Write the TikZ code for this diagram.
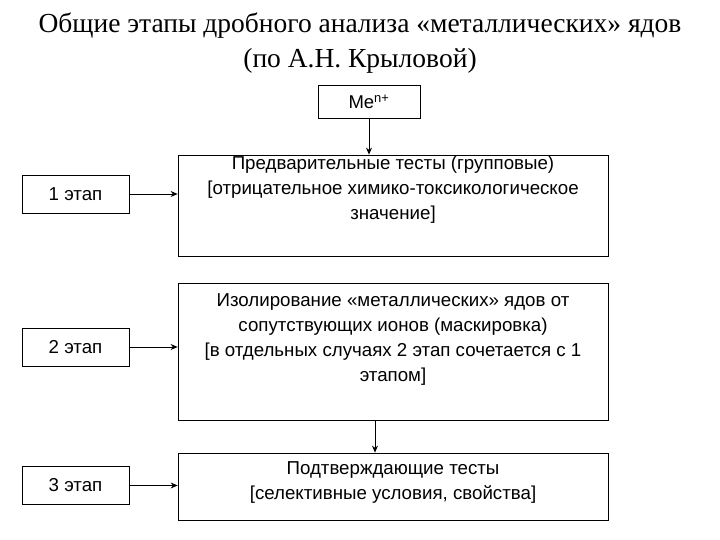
\documentclass[tikz,border=0pt]{standalone}
\usepackage{fontspec}
\setmainfont{Liberation Sans}
\newfontfamily\ttl{Liberation Serif}
\usetikzlibrary{arrows.meta}
\begin{document}
\begin{tikzpicture}[x=1pt,y=-1pt,
  bx/.style={draw,line width=0.8pt,inner sep=0pt},
  txt/.style={align=center,font=\fontsize{18.7}{25}\selectfont},
  ar/.style={-{Stealth[length=7pt,width=6pt]},line width=0.8pt}]
\useasboundingbox (0,0) rectangle (720,540);
\node[font=\ttl\fontsize{27.5}{35}\selectfont,align=center] (title) at (360,43) {Общие этапы дробного анализа «металлических» ядов\\(по А.Н. Крыловой)};
\node[bx,minimum width=102pt,minimum height=33pt,font=\fontsize{18.5}{20}\selectfont] (me) at (369,101.5) {Me\textsuperscript{n+}};
\node[bx,minimum width=430pt,minimum height=101pt] (b1) at (393,205.5) {};
\node[txt] (t1) at (393,190) {Предварительные тесты (групповые)\\\relax{[}отрицательное химико-токсикологическое\\значение]};
\node[bx,minimum width=430pt,minimum height=137pt] (b2) at (393,351.5) {};
\node[txt] (t2) at (393,340) {Изолирование «металлических» ядов от\\сопутствующих ионов (маскировка)\\\relax{[}в отдельных случаях 2 этап сочетается с 1\\этапом]};
\node[bx,minimum width=430pt,minimum height=67pt] (b3) at (393,486.5) {};
\node[txt] (t3) at (393,483) {Подтверждающие тесты\\\relax{[}селективные условия, свойства]};
\node[bx,minimum width=107pt,minimum height=38pt,font=\fontsize{18.7}{20}\selectfont] (s1) at (75.5,194) {1 этап};
\node[bx,minimum width=107pt,minimum height=38pt,font=\fontsize{18.7}{20}\selectfont] (s2) at (75.5,347) {2 этап};
\node[bx,minimum width=107pt,minimum height=38pt,font=\fontsize{18.7}{20}\selectfont] (s3) at (75.5,485.5) {3 этап};
\draw[ar] (me.south) -- (b1.north -| me.south);
\draw[ar] (s1.east) -- (s1.east -| b1.west);
\draw[ar] (s2.east) -- (s2.east -| b2.west);
\draw[ar] (s3.east) -- (s3.east -| b3.west);
\coordinate (c) at (375,0);
\draw[ar] (b2.south -| c) -- (b3.north -| c);
\end{tikzpicture}
\end{document}
